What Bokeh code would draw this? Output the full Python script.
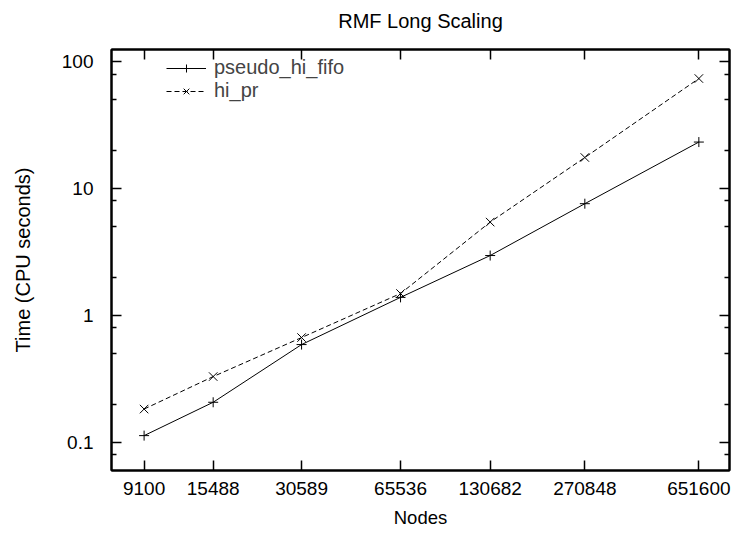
from bokeh.plotting import figure
from bokeh.models import FixedTicker, LogAxis, Range1d, Legend, LegendItem
from bokeh.embed import file_html
from bokeh.resources import INLINE

# ---- data ----
nodes = [9100, 15488, 30589, 65536, 130682, 270848, 651600]
pseudo_hi_fifo = [0.113, 0.207, 0.59, 1.39, 2.97, 7.61, 23.3]
hi_pr = [0.183, 0.33, 0.67, 1.49, 5.45, 17.6, 73.8]
y_major = [0.1, 1, 10, 100]
y_minor = [0.08, 0.2, 0.5, 0.8, 2, 5, 8, 20, 50, 80]
y_labels = ["0.1", "1", "10", "100"]
x_labels = [str(n) for n in nodes]
title_text = "RMF Long Scaling"

FONT = "Liberation Sans"
FS_TICK = "19px"
FS_TEXT = "20px"

p = figure(width=734, height=533, x_axis_type="log", y_axis_type="log",
           output_backend="svg", toolbar_location=None,
           x_range=Range1d(7080, 825000), y_range=Range1d(0.06, 125),
           min_border_left=111, min_border_right=5, min_border_top=49,
           min_border_bottom=63)

p.xgrid.visible = False
p.ygrid.visible = False
p.outline_line_color = "black"
p.outline_line_width = 2
p.background_fill_color = "white"
p.border_fill_color = "white"

xt = FixedTicker(ticks=nodes, minor_ticks=[])
yt = FixedTicker(ticks=y_major, minor_ticks=y_minor)

def style_axis(ax, ticker, labels, show_labels):
    ax.ticker = ticker
    ax.major_tick_in = 10
    ax.major_tick_out = 0
    ax.minor_tick_in = 5
    ax.minor_tick_out = 0
    ax.major_tick_line_color = "black"
    ax.minor_tick_line_color = "black"
    ax.major_tick_line_width = 1.5
    ax.minor_tick_line_width = 1.5
    ax.axis_line_color = "black"
    ax.axis_line_width = 2
    ax.major_label_text_font = FONT
    ax.major_label_text_font_size = FS_TICK
    ax.major_label_text_color = "black"
    if show_labels:
        ax.major_label_overrides = dict(zip(ticker.ticks, labels))
    else:
        ax.major_label_overrides = {t: "" for t in ticker.ticks}
        ax.major_label_standoff = 0

style_axis(p.xaxis[0], xt, x_labels, True)
style_axis(p.yaxis[0], yt, y_labels, True)
p.xaxis[0].major_label_standoff = 11
p.yaxis[0].major_label_standoff = 18

p.xaxis[0].axis_label = "Nodes"
p.yaxis[0].axis_label = "Time (CPU seconds)"
for ax in (p.xaxis[0], p.yaxis[0]):
    ax.axis_label_text_font = FONT
    ax.axis_label_text_font_style = "normal"
    ax.axis_label_text_color = "black"
p.xaxis[0].axis_label_text_font_size = "18.5px"
p.yaxis[0].axis_label_text_font_size = FS_TEXT
p.xaxis[0].axis_label_standoff = 9
p.yaxis[0].axis_label_standoff = 25

# mirrored top axis carries the chart title as its label
top_ax = LogAxis()
style_axis(top_ax, xt, x_labels, False)
top_ax.major_label_text_font_size = "1px"
top_ax.axis_label = title_text
top_ax.axis_label_text_font = FONT
top_ax.axis_label_text_font_size = FS_TEXT
top_ax.axis_label_text_font_style = "normal"
top_ax.axis_label_text_color = "black"
top_ax.axis_label_standoff = 18
p.add_layout(top_ax, "above")

right_ax = LogAxis()
style_axis(right_ax, yt, y_labels, False)
p.add_layout(right_ax, "right")

l1 = p.line(nodes, pseudo_hi_fifo, line_color="black", line_width=1)
m1 = p.scatter(nodes, pseudo_hi_fifo, marker="cross", size=10,
               line_color="black", line_width=1)
l2 = p.line(nodes, hi_pr, line_color="black", line_width=1, line_dash="5 3")
m2 = p.scatter(nodes, hi_pr, marker="x", size=12,
               line_color="black", line_width=1)

legend = Legend(items=[LegendItem(label="pseudo_hi_fifo", renderers=[l1, m1]),
                       LegendItem(label="hi_pr", renderers=[l2, m2])],
                location=(55, 368))
legend.border_line_color = None
legend.background_fill_alpha = 0
legend.label_text_font = FONT
legend.label_text_font_size = FS_TEXT
legend.glyph_width = 40
legend.spacing = 0
legend.padding = 4
legend.margin = 0
legend.label_height = 20
legend.glyph_height = 20
legend.label_standoff = 8
p.add_layout(legend)

open("out.html", "w").write(file_html(p, INLINE))
